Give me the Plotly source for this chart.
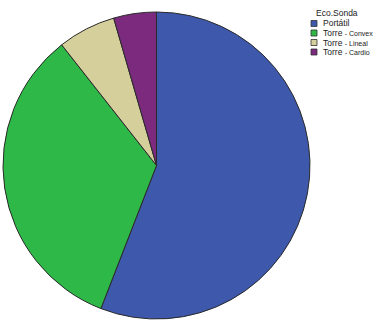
import plotly.graph_objects as go

legend_title = "Eco.Sonda"
labels = ["Portátil", "Torre - Convex", "Torre - Lineal", "Torre - Cardio"]
values = [55.9, 33.5, 6.1, 4.5]
colors = ["#3E58AC", "#2EB848", "#D5CF9C", "#7B2A7E"]

W, H = 387, 330
TXT = "#222222"


def fmt(lbl):
    if " - " in lbl:
        a, b = lbl.split(" - ", 1)
        return f"{a} <span style='font-size:7px'>- {b}</span>"
    return lbl


fig = go.Figure(go.Pie(
    labels=labels,
    values=values,
    marker=dict(colors=colors, line=dict(color="#2a2a2a", width=1)),
    sort=False,
    direction="clockwise",
    rotation=0,
    textinfo="none",
    hoverinfo="label+percent",
    showlegend=False,
    domain=dict(x=[2 / W, 311 / W], y=[1 - 319 / H, 1 - 12 / H]),
))

annotations = [dict(
    text=legend_title, x=337 / W, y=1 - 13.5 / H, xref="paper", yref="paper",
    xanchor="center", yanchor="middle", showarrow=False,
    font=dict(size=8.5, color=TXT),
)]
shapes = []
row_y = [23.5, 33, 42.5, 52]
for lbl, col, yc in zip(labels, colors, row_y):
    shapes.append(dict(
        type="rect", xref="paper", yref="paper",
        x0=311 / W, x1=317 / W, y0=1 - (yc + 3) / H, y1=1 - (yc - 3) / H,
        fillcolor=col, line=dict(color="#333", width=0.8),
    ))
    annotations.append(dict(
        text=fmt(lbl), x=321 / W, y=1 - yc / H, xref="paper", yref="paper",
        xanchor="left", yanchor="middle", showarrow=False,
        font=dict(size=8.5, color=TXT),
    ))

fig.update_layout(
    width=W, height=H,
    margin=dict(l=0, r=0, t=0, b=0),
    paper_bgcolor="white", plot_bgcolor="white",
    font=dict(family="Liberation Sans, Arial", size=9, color=TXT),
    annotations=annotations,
    shapes=shapes,
)
fig.write_html(
    "out.html",
    config={"displayModeBar": False},
    post_script="document.body.style.margin='0';document.body.style.padding='0';",
)
